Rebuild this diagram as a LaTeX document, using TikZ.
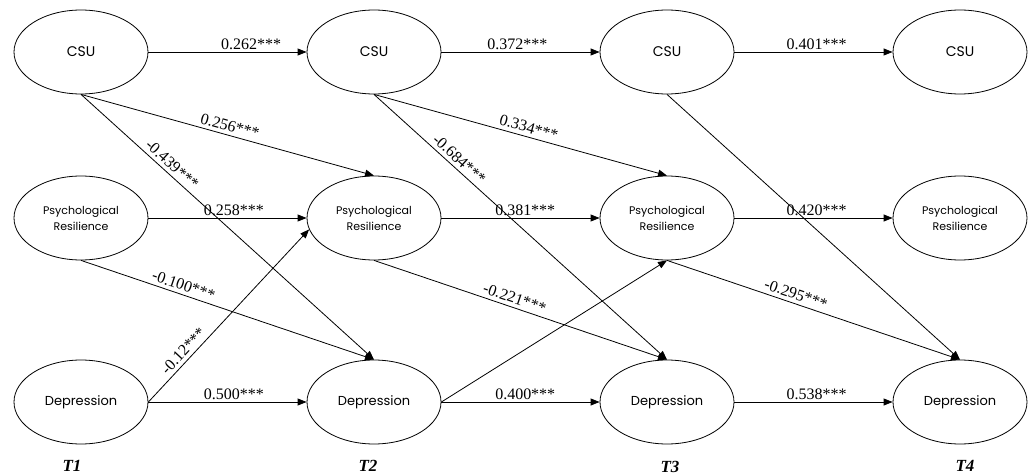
\documentclass[tikz,border=0pt]{standalone}
\usepackage{fontspec}
\setmainfont{Liberation Serif}
\newfontfamily\nodefont{Poppins}
\usepackage{tikz}
\usetikzlibrary{arrows.meta, positioning, shapes.geometric}

\begin{document}
\begin{tikzpicture}[
            x=1pt, y=-1pt,
            ->,
            >={Triangle[length=9pt,width=7pt]},
            node distance=293pt,
            line width=0.8pt,
            var/.style={draw, ellipse, minimum width=134pt, minimum height=84pt, inner sep=0pt,
                        font=\nodefont\fontsize{13}{15}\selectfont},
            res/.style={var, align=center, font=\nodefont\fontsize{11}{16}\selectfont},
            coef/.style={font=\fontsize{16}{18}\selectfont, inner sep=2pt},
            slant/.style={coef, above, sloped, inner sep=3.5pt},
            wave/.style={font=\bfseries\itshape\fontsize{17}{19}\selectfont}
        ]
        \useasboundingbox (0,0) rectangle (1029,476);

        % Define variables
        \node[var, font=\nodefont\fontsize{14}{16}\selectfont] (c1) at (81,52) {CSU};
        \node[var, font=\nodefont\fontsize{14}{16}\selectfont] (c2) [right of=c1] {CSU};
        \node[var, font=\nodefont\fontsize{14}{16}\selectfont] (c3) [right of=c2] {CSU};
        \node[var, font=\nodefont\fontsize{14}{16}\selectfont] (c4) [right of=c3] {CSU};

        \node[res] (r1) at (81,218) {Psychological\\Resilience};
        \node[res] (r2) [right of=r1] {Psychological\\Resilience};
        \node[res] (r3) [right of=r2] {Psychological\\Resilience};
        \node[res] (r4) [right of=r3] {Psychological\\Resilience};

        \node[var] (d1) at (81,402) {Depression};
        \node[var] (d2) [right of=d1] {Depression};
        \node[var] (d3) [right of=d2] {Depression};
        \node[var] (d4) [right of=d3] {Depression};

        % Waves
        \node[wave] (t1) at (72,466) {T1};
        \node[wave] (t2) at (368,466) {T2};
        \node[wave] (t3) at (670,467) {T3};
        \node[wave] (t4) at (965,466) {T4};

        % Draw paths T1 -> T2
        \draw (c1) -- node[coef, above, pos=0.65] {0.262***} (c2);
        \draw (c1.south) -- node[slant, pos=0.5] {0.256***} (r2.north);
        \draw (c1.south) -- node[slant, pos=0.29] {-0.439***} (d2.north);
        \draw (r1) -- node[coef, above, pos=0.54] {0.258***} (r2);
        \draw (r1.south) -- node[slant, pos=0.34] {-0.100***} (d2.north);
        \draw (d1.east) -- node[slant, pos=0.26] {-0.12***} (r2.190);
        \draw (d1) -- node[coef, above, pos=0.54] {0.500***} (d2);

        % Draw paths T2 -> T3
        \draw (c2) -- node[coef, above, pos=0.48] {0.372***} (c3);
        \draw (c2.south) -- node[slant, pos=0.52] {0.334***} (r3.north);
        \draw (c2.south) -- node[slant, pos=0.27] {-0.684***} (d3.north);
        \draw (r2) -- node[coef, above, pos=0.53] {0.381***} (r3);
        \draw (r2.south) -- node[slant, pos=0.47] {-0.221***} (d3.north);
        \draw (d2.east) -- (r3.south);
        \draw (d2) -- node[coef, above, pos=0.53] {0.400***} (d3);

        % Draw paths T3 -> T4
        \draw (c3) -- node[coef, above, pos=0.52] {0.401***} (c4);
        \draw (c3.south) -- (d4.north);
        \draw (r3) -- node[coef, above, pos=0.52] {0.420***} (r4);
        \draw (r3.south) -- node[slant, pos=0.43] {-0.295***} (d4.north);
        \draw (d3) -- node[coef, above, pos=0.52] {0.538***} (d4);
\end{tikzpicture}
\end{document}
